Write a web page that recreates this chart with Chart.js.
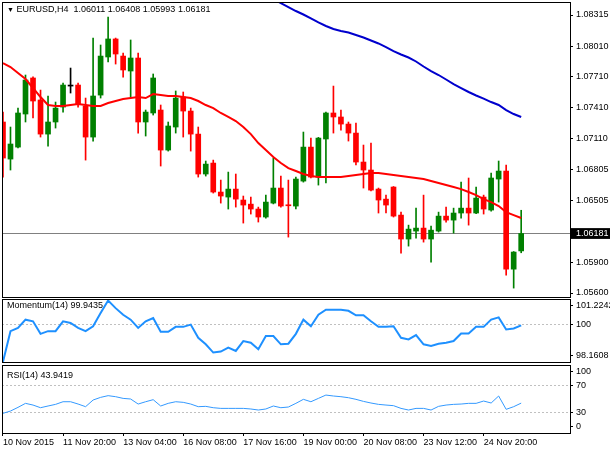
<!DOCTYPE html>
<html>
<head>
<meta charset="utf-8">
<script src="https://cdn.jsdelivr.net/npm/chart.js@4.4.0/dist/chart.umd.min.js"></script>
<style>
  body { margin: 0; background: #fff; }
  #wrap { position: relative; width: 610px; height: 450px; overflow: hidden; background: #fff;
          font-family: "Liberation Sans", Arial, sans-serif; }
  canvas { position: absolute; left: 0; }
  .lbl { position: absolute; font-size: 9px; line-height: 11px; color: #000; white-space: pre; }
</style>
</head>
<body>
<div id="wrap">
  <canvas id="priceChart" width="610" height="300" style="top:0px"></canvas>
  <canvas id="momChart" width="610" height="66" style="top:298px"></canvas>
  <canvas id="rsiChart" width="610" height="86" style="top:364px"></canvas>
  <div class="lbl" style="left:7px;top:4px"><span style="font-size:7px">▼</span> EURUSD,H4  1.06011 1.06408 1.05993 1.06181</div>
  <div class="lbl" style="left:7px;top:300px">Momentum(14) 99.9435</div>
  <div class="lbl" style="left:7px;top:370px">RSI(14) 43.9419</div>
</div>
<script>
// H4 bars, index 0 .. 69
const dateLabels = ['10 Nov 2015', '11 Nov 20:00', '13 Nov 04:00', '16 Nov 08:00', '17 Nov 16:00',
                    '19 Nov 00:00', '20 Nov 08:00', '23 Nov 12:00', '24 Nov 20:00'];
const labelBars = [0, 8, 16, 24, 32, 40, 48, 56, 64];

const opens = [1.07270, 1.06908, 1.07025, 1.07348, 1.07700, 1.07485, 1.07152, 1.07270, 1.07416, 1.07621,
               1.07631, 1.07426, 1.07123, 1.07533, 1.07905, 1.08081, 1.07914, 1.07768, 1.07895, 1.07270,
               1.07358, 1.07387, 1.06996, 1.07221, 1.07514, 1.07377, 1.07152, 1.06762, 1.06869, 1.06586,
               1.06537, 1.06615, 1.06508, 1.06468, 1.06420, 1.06342, 1.06478, 1.06625, 1.06459, 1.06449,
               1.06693, 1.07025, 1.06732, 1.07104, 1.07358, 1.07319, 1.07250, 1.07162, 1.06879, 1.06801,
               1.06615, 1.06517, 1.06635, 1.06361, 1.06127, 1.06205, 1.06234, 1.06127, 1.06205, 1.06351,
               1.06312, 1.06381, 1.06429, 1.06381, 1.06537, 1.06410, 1.06713, 1.06791, 1.05833, 1.06011];
const highs = [1.07367, 1.07221, 1.07406, 1.07729, 1.07710, 1.07582, 1.07524, 1.07465, 1.07651, 1.07797,
               1.07651, 1.07504, 1.08090, 1.08022, 1.08295, 1.08090, 1.07944, 1.08071, 1.07944, 1.07387,
               1.07739, 1.07436, 1.07270, 1.07573, 1.07563, 1.07406, 1.07221, 1.06889, 1.06898, 1.06703,
               1.06781, 1.06762, 1.06547, 1.06537, 1.06439, 1.06556, 1.06918, 1.06742, 1.06703, 1.06732,
               1.07172, 1.07113, 1.07120, 1.07367, 1.07621, 1.07387, 1.07270, 1.07260, 1.07045, 1.07064,
               1.06625, 1.06556, 1.06640, 1.06390, 1.06263, 1.06429, 1.06556, 1.06254, 1.06390, 1.06439,
               1.06429, 1.06683, 1.06723, 1.06635, 1.06556, 1.06771, 1.06889, 1.06850, 1.06005, 1.06408];
const lows = [1.06732, 1.06801, 1.07016, 1.07270, 1.07309, 1.07123, 1.07035, 1.07211, 1.07367, 1.07553,
              1.07416, 1.06898, 1.07084, 1.07504, 1.07856, 1.07836, 1.07709, 1.07514, 1.07162, 1.07133,
              1.07338, 1.06840, 1.06986, 1.07162, 1.07123, 1.06986, 1.06732, 1.06742, 1.06576, 1.06478,
              1.06420, 1.06439, 1.06283, 1.06371, 1.06293, 1.06332, 1.06470, 1.06439, 1.06146, 1.06420,
              1.06683, 1.06723, 1.06654, 1.06674, 1.07162, 1.07191, 1.07084, 1.06850, 1.06625, 1.06596,
              1.06381, 1.06381, 1.06342, 1.05990, 1.06058, 1.06136, 1.06097, 1.05902, 1.06195, 1.06293,
              1.06185, 1.06332, 1.06263, 1.06375, 1.06371, 1.06400, 1.06488, 1.05775, 1.05648, 1.05993];
const closes = [1.06918, 1.07055, 1.07358, 1.07680, 1.07475, 1.07152, 1.07270, 1.07406, 1.07631, 1.07621,
                1.07446, 1.07123, 1.07524, 1.07914, 1.08081, 1.07934, 1.07778, 1.07895, 1.07270, 1.07367,
                1.07700, 1.06996, 1.07231, 1.07504, 1.07377, 1.07152, 1.06762, 1.06859, 1.06586, 1.06547,
                1.06615, 1.06517, 1.06459, 1.06420, 1.06342, 1.06488, 1.06625, 1.06449, 1.06452, 1.06713,
                1.07025, 1.06732, 1.07113, 1.07358, 1.07319, 1.07250, 1.07162, 1.06879, 1.06801, 1.06605,
                1.06508, 1.06459, 1.06351, 1.06127, 1.06224, 1.06234, 1.06127, 1.06214, 1.06351, 1.06312,
                1.06381, 1.06429, 1.06381, 1.06527, 1.06420, 1.06723, 1.06791, 1.05833, 1.06000, 1.06181];

// moving averages (red short, blue long)
const maShort = [1.07846, 1.07807, 1.07748, 1.07690, 1.07602, 1.07514, 1.07436, 1.07426, 1.07426, 1.07436,
                 1.07446, 1.07436, 1.07426, 1.07426, 1.07455, 1.07475, 1.07494, 1.07504, 1.07514, 1.07504,
                 1.07543, 1.07533, 1.07524, 1.07524, 1.07514, 1.07504, 1.07475, 1.07436, 1.07406, 1.07358,
                 1.07319, 1.07279, 1.07221, 1.07152, 1.07064, 1.06996, 1.06928, 1.06869, 1.06820, 1.06791,
                 1.06762, 1.06742, 1.06732, 1.06732, 1.06732, 1.06732, 1.06742, 1.06752, 1.06762, 1.06771,
                 1.06771, 1.06762, 1.06752, 1.06742, 1.06732, 1.06723, 1.06713, 1.06693, 1.06674, 1.06654,
                 1.06635, 1.06615, 1.06586, 1.06556, 1.06517, 1.06488, 1.06449, 1.06390, 1.06361, 1.06332];
const maLong = [null, null, null, null, null, null, null, null, null, null,
                null, null, null, null, null, null, null, null, null, null,
                null, null, null, null, null, null, null, null, null, null,
                null, null, null, null, null, 1.08501, 1.08471, 1.08432, 1.08393, 1.08354,
                1.08320, 1.08281, 1.08242, 1.08208, 1.08178, 1.08159, 1.08144, 1.08120, 1.08095, 1.08066,
                1.08037, 1.08002, 1.07963, 1.07929, 1.07900, 1.07861, 1.07812, 1.07768, 1.07729, 1.07685,
                1.07641, 1.07602, 1.07563, 1.07529, 1.07499, 1.07465, 1.07436, 1.07387, 1.07348, 1.07319];

const momentum = [98.17, 99.66, 99.82, 100.22, 100.14, 99.53, 99.66, 99.66, 100.14, 100.06,
                  99.82, 99.66, 99.90, 100.54, 101.15, 100.78, 100.46, 100.22, 99.82, 100.14,
                  100.30, 99.63, 99.63, 99.87, 99.87, 99.98, 99.34, 99.02, 98.62, 98.67,
                  98.86, 98.70, 99.18, 99.10, 98.78, 99.42, 99.42, 99.02, 99.05, 99.53,
                  100.22, 99.90, 100.46, 100.70, 100.70, 100.70, 100.65, 100.43, 100.43, 100.14,
                  99.87, 99.87, 99.90, 99.34, 99.26, 99.47, 99.02, 98.94, 99.05, 99.10,
                  99.18, 99.55, 99.55, 99.87, 99.87, 100.22, 100.33, 99.74, 99.79, 99.9435];
const rsi = [28.9, 32.3, 37.7, 43.6, 41.1, 37.2, 39.7, 42.1, 46.0, 46.0,
             42.6, 38.7, 48.5, 52.4, 54.9, 53.4, 50.9, 50.0, 42.6, 46.0,
             49.0, 39.7, 43.6, 46.0, 45.1, 42.6, 38.7, 39.2, 37.2, 36.2,
             36.2, 36.2, 36.2, 35.3, 33.8, 35.3, 39.7, 37.2, 38.2, 43.6,
             49.5, 46.0, 50.9, 55.8, 54.4, 53.4, 51.9, 49.5, 46.5, 44.1,
             42.1, 41.1, 40.2, 36.2, 33.8, 36.2, 36.2, 33.8, 39.2, 41.1,
             42.1, 42.6, 43.6, 43.6, 47.0, 44.1, 54.4, 34.8, 38.7, 43.94];

const priceTicks = [1.08315, 1.08010, 1.07710, 1.07410, 1.07110, 1.06805, 1.06505, 1.06181, 1.05900, 1.05600];
const lastPrice = 1.06181;
const momMax = 101.2242, momMin = 98.1608, momLevel = 100;
const rsiLevels = [70, 30];

const BULL = '#008000', BEAR = '#ff0000', DOJI = '#000000';
const candleColor = closes.map((c, i) => c > opens[i] ? BULL : (c < opens[i] ? BEAR : DOJI));
const xs = opens.map((_, i) => i);
const pts = arr => xs.map(i => ({x: i, y: arr[i]}));

Chart.defaults.font.family = '"Liberation Sans", Arial, sans-serif';
Chart.defaults.font.size = 9;
Chart.defaults.color = '#000';

const X_MIN = -0.13, X_MAX = 75.5;

// keep every panel's plot area the same width
function fixRightAxis(axis) {
  axis.width = 40;
  axis.paddingTop = 0;
  axis.paddingBottom = 0;
}

const framePlugin = {
  id: 'frame',
  afterDraw(chart) {
    const {ctx, chartArea: a} = chart;
    ctx.save();
    ctx.strokeStyle = '#000';
    ctx.lineWidth = 1;
    ctx.strokeRect(a.left + 0.5, a.top + 0.5, a.right - a.left, a.bottom - a.top);
    ctx.restore();
  }
};

const hiddenX = {type: 'linear', min: X_MIN, max: X_MAX, display: false, offset: false};
const baseOpts = {
  responsive: false,
  animation: false,
  events: [],
  plugins: {legend: {display: false}, tooltip: {enabled: false}}
};

// price panel
new Chart(document.getElementById('priceChart'), {
  type: 'bar',
  data: {
    datasets: [
      {type: 'line', data: pts(maShort), borderColor: '#ff0000', borderWidth: 2, pointRadius: 0},
      {type: 'line', data: pts(maLong), borderColor: '#0000cd', borderWidth: 2, pointRadius: 0},
      {data: xs.map(i => ({x: i, y: [opens[i], closes[i]]})), backgroundColor: candleColor,
       barThickness: 5, minBarLength: 1, grouped: false},
      {data: xs.map(i => ({x: i, y: [lows[i], highs[i]]})), backgroundColor: candleColor,
       barThickness: 1, grouped: false},
      {type: 'line', data: [{x: X_MIN, y: lastPrice}, {x: X_MAX, y: lastPrice}],
       borderColor: '#808080', borderWidth: 1, pointRadius: 0}
    ]
  },
  options: {
    ...baseOpts,
    layout: {padding: {left: 2, top: 2, right: 0, bottom: 3}},
    scales: {
      x: hiddenX,
      y: {
        position: 'right', min: 1.05561, max: 1.08442,
        afterBuildTicks: axis => { axis.ticks = priceTicks.map(v => ({value: v})); },
        afterFit: fixRightAxis,
        grid: {drawOnChartArea: false, tickLength: 3, tickColor: '#000'},
        border: {display: false},
        ticks: {
          padding: 3, autoSkip: false,
          callback: v => v.toFixed(5),
          color: c => (c.tick && c.tick.value === lastPrice) ? '#fff' : '#000',
          showLabelBackdrop: c => !!(c.tick && c.tick.value === lastPrice),
          backdropColor: '#000',
          backdropPadding: {left: 5, right: 6, top: 0, bottom: 0}
        }
      }
    }
  },
  plugins: [framePlugin]
});

// momentum panel
const momInset = (momMax - momMin) * 0.11;
new Chart(document.getElementById('momChart'), {
  type: 'line',
  data: {datasets: [{data: pts(momentum), borderColor: '#1e90ff', borderWidth: 2, pointRadius: 0}]},
  options: {
    ...baseOpts,
    layout: {padding: {left: 2, top: 1, right: 0, bottom: 2}},
    scales: {
      x: hiddenX,
      y: {
        position: 'right', min: momMin, max: momMax,
        afterBuildTicks: axis => {
          axis.ticks = [{value: momMax - momInset}, {value: momLevel}, {value: momMin + momInset}];
        },
        afterFit: fixRightAxis,
        grid: {
          color: c => (c.tick && c.tick.value === momLevel) ? '#c0c0c0' : 'rgba(0,0,0,0)',
          tickLength: 3, tickColor: '#000'
        },
        border: {display: false, dash: [2, 2]},
        ticks: {
          padding: 3, autoSkip: false,
          callback: (v, i) => [momMax.toFixed(4), String(momLevel), momMin.toFixed(4)][i]
        }
      }
    }
  },
  plugins: [framePlugin]
});

// RSI panel with the time axis
new Chart(document.getElementById('rsiChart'), {
  type: 'line',
  data: {datasets: [{data: pts(rsi), borderColor: '#3399ff', borderWidth: 1, pointRadius: 0}]},
  options: {
    ...baseOpts,
    layout: {padding: {left: 2, top: 1, right: 0, bottom: 0}},
    scales: {
      x: {
        type: 'linear', min: X_MIN, max: X_MAX, offset: false,
        afterBuildTicks: axis => { axis.ticks = labelBars.map(v => ({value: v})); },
        afterFit: axis => { axis.height = 17; axis.paddingLeft = 0; axis.paddingRight = 0; },
        grid: {drawOnChartArea: false, tickLength: 3, tickColor: '#000'},
        border: {display: false},
        ticks: {autoSkip: false, maxRotation: 0, minRotation: 0, align: 'start', padding: 1,
                callback: (v, i) => dateLabels[i]}
      },
      y: {
        position: 'right', min: 0, max: 100,
        afterBuildTicks: axis => {
          axis.ticks = [{value: 90}, {value: rsiLevels[0]}, {value: rsiLevels[1]}, {value: 9}];
        },
        afterFit: fixRightAxis,
        grid: {
          color: c => (c.tick && rsiLevels.includes(c.tick.value)) ? '#c0c0c0' : 'rgba(0,0,0,0)',
          tickLength: 3, tickColor: '#000'
        },
        border: {display: false, dash: [2, 2]},
        ticks: {
          padding: 3, autoSkip: false,
          callback: (v, i) => ['100', String(rsiLevels[0]), String(rsiLevels[1]), '0'][i]
        }
      }
    }
  },
  plugins: [framePlugin]
});
</script>
</body>
</html>
